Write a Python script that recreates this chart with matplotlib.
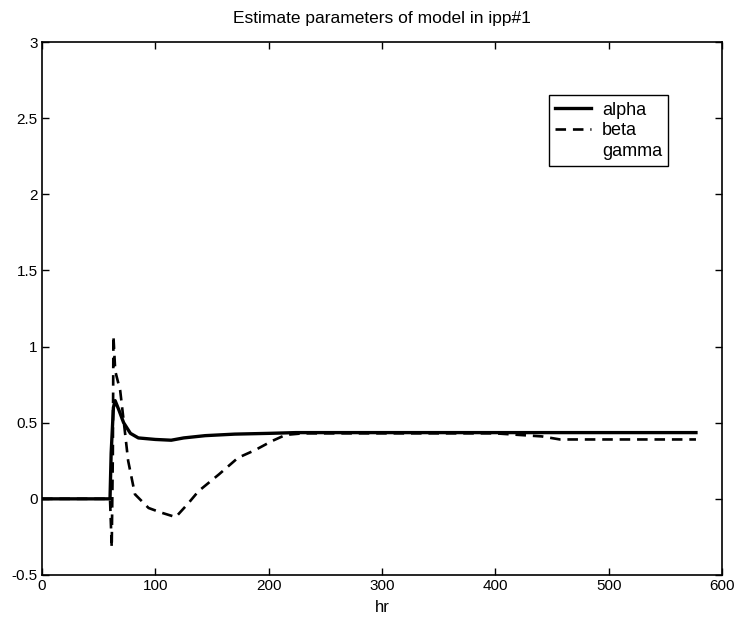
import matplotlib
matplotlib.use("Agg")
import matplotlib.pyplot as plt
from matplotlib.lines import Line2D

plt.rcParams['font.family'] = ['Liberation Sans', 'DejaVu Sans']

# Data
alpha_hr = [0, 60, 61, 63, 64.5, 68, 72, 78, 85, 100, 114, 125, 144, 170, 200, 224, 300, 400, 500, 577]
alpha = [0, 0, 0.3, 0.6, 0.645, 0.58, 0.5, 0.43, 0.40, 0.39, 0.385, 0.40, 0.415, 0.425, 0.43, 0.435, 0.435, 0.435, 0.435, 0.435]

beta_hr = [0, 60, 61.5, 62.5, 63, 64.6, 69, 73, 76, 82, 94, 105, 118, 129, 138, 156, 173, 188, 203, 215, 230, 300, 400, 441, 457, 577]
beta = [0, 0, -0.32, 0.3, 1.07, 0.84, 0.71, 0.45, 0.25, 0.03, -0.06, -0.09, -0.12, -0.03, 0.05, 0.16, 0.27, 0.32, 0.38, 0.42, 0.43, 0.43, 0.43, 0.41, 0.39, 0.39]

gamma_hr = []
gamma = []

title = "Estimate parameters of model in ipp#1"
xlabel = "hr"
xticks = [0, 100, 200, 300, 400, 500, 600]
yticks = [-0.5, 0, 0.5, 1, 1.5, 2, 2.5, 3]
ytick_labels = ["-0.5", "0", "0.5", "1", "1.5", "2", "2.5", "3"]

dash = (0, (4.0, 2.6))

fig = plt.figure(figsize=(7.41, 6.26), dpi=100)
ax = fig.add_axes([0.0567, 0.0815, 0.9177, 0.8514])

ax.plot(alpha_hr, alpha, color='black', lw=2.4, solid_joinstyle='round', label='alpha')
ax.plot(beta_hr, beta, color='black', lw=1.9, linestyle=dash, label='beta')
ax.plot(gamma_hr, gamma, color='black', linestyle='none', label='gamma')

ax.set_xlim(0, 600)
ax.set_ylim(-0.5, 3)
ax.set_xticks(xticks)
ax.set_yticks(yticks)
ax.set_yticklabels(ytick_labels)
ax.tick_params(direction='in', top=True, right=True, length=5, width=1, labelsize=11, pad=3)
for s in ax.spines.values():
    s.set_linewidth(1.2)

ax.set_title(title, fontsize=12.5, pad=14)
ax.set_xlabel(xlabel, fontsize=12, labelpad=5)

handles = [Line2D([], [], color='black', lw=2.4),
           Line2D([], [], color='black', lw=1.9, linestyle=dash),
           Line2D([], [], color='none')]
leg = ax.legend(handles, ['alpha', 'beta', 'gamma'], loc='upper left',
                bbox_to_anchor=(0.745, 0.900), fontsize=13, frameon=True,
                fancybox=False, edgecolor='black', framealpha=1,
                handlelength=2.0, handletextpad=0.6, borderpad=0.35, labelspacing=0.2,
                borderaxespad=0)
leg.get_frame().set_linewidth(1.0)

fig.savefig("out.png", dpi=100)
